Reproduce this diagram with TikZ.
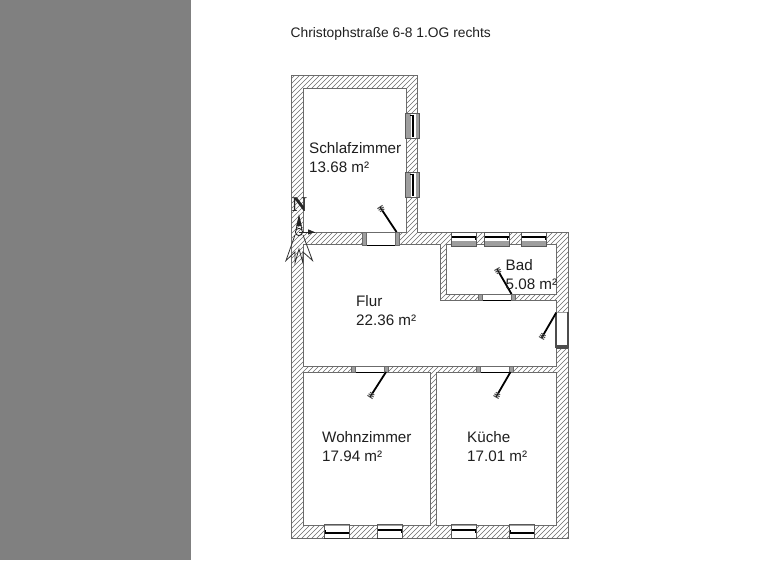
\documentclass[tikz,border=0pt]{standalone}
\usepackage{fontspec}
\setmainfont{Liberation Sans}
\newfontfamily\northfont{Liberation Serif}
\usetikzlibrary{calc}
\definecolor{hatch}{gray}{0.42}
\definecolor{sidegrey}{gray}{0.5}
\definecolor{winfill}{gray}{0.62}
\tikzset{
  x=1pt,y=-1pt,
  wallline/.style={draw=hatch,line width=0.8pt},
  frameline/.style={draw=black!65,line width=0.9pt},
  pane/.style={line width=2pt,draw=black},
  tick/.style={line width=0.9pt,draw=black},
  roomlabel/.style={font=\fontsize{15.2pt}{18pt}\selectfont,anchor=base west,inner sep=0pt,text=black!88},
}
\begin{document}
\begin{tikzpicture}
\useasboundingbox (0,0) rectangle (768,560);
\fill[white] (0,0) rectangle (768,560);
\fill[sidegrey] (0,0) rectangle (191,560);
% hatched walls
\begin{scope}[even odd rule]
  \clip (291.5,75.5) -- (417.5,75.5) -- (417.5,232.5) -- (568,232.5) -- (568,538) -- (291.5,538) -- cycle
    (303.5,88) -- (406,88) -- (406,232.5) -- (303.5,232.5) -- cycle
    (303.5,244.5) -- (440,244.5) -- (440,300.5) -- (556,300.5) -- (556,366) -- (303.5,366) -- cycle
    (446,244.5) -- (556,244.5) -- (556,294) -- (446,294) -- cycle
    (303.5,372.5) -- (430,372.5) -- (430,525.5) -- (303.5,525.5) -- cycle
    (436.5,372.5) -- (556,372.5) -- (556,525.5) -- (436.5,525.5) -- cycle;
  \foreach \k in {-300,-295,...,1000} \draw[hatch,line width=0.55pt] (\k,560) -- (\k+560,0);
\end{scope}
\draw[wallline] (291.5,75.5) -- (417.5,75.5) -- (417.5,232.5) -- (568,232.5) -- (568,538) -- (291.5,538) -- cycle;
\draw[wallline] (303.5,88) -- (406,88) -- (406,232.5) -- (303.5,232.5) -- cycle;
\draw[wallline] (303.5,244.5) -- (440,244.5) -- (440,300.5) -- (556,300.5) -- (556,366) -- (303.5,366) -- cycle;
\draw[wallline] (446,244.5) -- (556,244.5) -- (556,294) -- (446,294) -- cycle;
\draw[wallline] (303.5,372.5) -- (430,372.5) -- (430,525.5) -- (303.5,525.5) -- cycle;
\draw[wallline] (436.5,372.5) -- (556,372.5) -- (556,525.5) -- (436.5,525.5) -- cycle;
% windows right of Schlafzimmer
\foreach \y in {113,172}{
  \fill[white] (405,\y) rectangle (419,\y+25);
  \fill[winfill] (405,\y) rectangle (411,\y+25);
  \fill[winfill] (416,\y) rectangle (419,\y+25);
  \draw[frameline] (405,\y) rectangle (419,\y+25);
  \draw[pane] (412.7,\y+1.5) -- (412.7,\y+24);
  \draw[tick] (412.7,\y+2) -- (409.5,\y+2);
}
% top windows (Bad)
\foreach \x in {451.5,484,521.5}{
  \fill[white] (\x,232.5) rectangle (\x+25,246.5);
  \fill[winfill] (\x,240.5) rectangle (\x+25,246.5);
  \draw[frameline] (\x,232.5) rectangle (\x+25,246.5);
  \draw[pane] (\x+0.5,237) -- (\x+24.5,237);
  \draw[tick] (\x+23.5,237) -- (\x+23.5,240);
}
% right window (Flur)
\fill[white] (556,312) rectangle (568,346.5);
\draw[winfill,line width=1.6pt] (556,312.5) -- (568,312.5);
\draw[black!70,line width=1.1pt] (556,312) -- (556,348) (568,312) -- (568,348) (556,348) -- (568,348) (556,346) -- (568,346);
% bottom windows
\foreach \x/\ly/\tx/\tya/\tyb in {324/532.7/325.5/532.7/529.5, 509/532.7/510.5/532.7/529.5, 377/530/401/530/533, 451.5/530/475.5/530/533}{
  \fill[white] (\x,524) rectangle (\x+25,538);
  \fill[winfill] (\x,524) rectangle (\x+25,526);
  \draw[frameline] (\x,524) rectangle (\x+25,538);
  \draw[pane] (\x+0.5,\ly) -- (\x+24.5,\ly);
  \draw[tick] (\tx,\tya) -- (\tx,\tyb);
  \draw[line width=0.9pt,black!80] (\x,538) -- (\x+25,538);
}
% door openings
\foreach \xa/\xb/\ya/\yb in {362/399/232.5/245, 478/515.5/294/300.5, 351/388/366/372.5, 476/513/366/372.5}{
  \fill[white] (\xa,\ya) rectangle (\xb,\yb);
  \draw[hatch,line width=0.9pt] (\xa,\ya) -- (\xb,\ya);
  \draw[black,line width=0.9pt] (\xa,\yb) -- (\xb,\yb);
  \fill[winfill] (\xa,\ya) rectangle (\xa+4,\yb);
  \fill[winfill] (\xb-4,\ya) rectangle (\xb,\yb);
  \draw[hatch,line width=0.7pt] (\xa,\ya) rectangle (\xa+4,\yb);
  \draw[hatch,line width=0.7pt] (\xb-4,\ya) rectangle (\xb,\yb);
}
% door leaves
\foreach \ax/\ay/\bx/\by in {396.5/232/380/207, 511.5/294/497/269, 386/372/370/397, 510.5/372/496/397, 556/313/541.5/338}{
  \coordinate (hinge) at (\ax,\ay);
  \coordinate (tip) at (\bx,\by);
  \draw[line width=1.8pt] (hinge) -- (tip);
  \coordinate (c1) at ($(tip)!2pt!(hinge)$);
  \draw[black!70,line width=1pt] ($(c1)!3pt!90:(hinge)$) -- ($(c1)!3pt!-90:(hinge)$);
  \draw[black!70,line width=1pt] ($(tip)!3pt!90:(hinge)$) -- ($(tip)!3pt!-90:(hinge)$);
  \coordinate (c2) at ($(tip)!4pt!(hinge)$);
  \draw[black!70,line width=1pt] ($(c2)!2.5pt!90:(hinge)$) -- ($(c2)!2.5pt!-90:(hinge)$);
}
% north symbol
\node[font=\northfont\bfseries\fontsize{21pt}{21pt}\selectfont,inner sep=0pt,text=black!85] (north) at (299.5,205) {N};
\coordinate (cc) at (299,232);
\coordinate (arrowup) at (299,216);
\coordinate (arroweast) at (314.5,232);
\draw[black!85,line width=0.9pt] (cc) circle[radius=3.6];
\draw[black!85,line width=0.8pt] (296,230) -- (arrowup) -- (302,230);
\fill[black!85] (arrowup) -- (296.3,226) -- (301.7,226) -- cycle;
\draw[black!85,line width=0.9pt] (cc) -- (arroweast);
\fill[black!85] (arroweast) -- (308,229.3) -- (308,234.7) -- cycle;
\draw[black!80,line width=0.8pt] (295,235) -- (286,260.5) -- (295,252) -- (295,263) -- (299,249) -- (303,263) -- (303,252) -- (312.5,260.5) -- (303,235);
% texts
\node[font=\fontsize{13.8pt}{16pt}\selectfont,anchor=base west,inner sep=0pt,text=black!88] (title) at (290.5,37) {Christophstraße 6-8 1.OG rechts};
\node[roomlabel] (schlaf) at (309,153.5) {Schlafzimmer};
\node[roomlabel] (schlafa) at (309,172.5) {13.68 m²};
\node[roomlabel] (bad) at (505.5,270) {Bad};
\node[roomlabel] (bada) at (505.5,289) {5.08 m²};
\node[roomlabel] (flur) at (356,306) {Flur};
\node[roomlabel] (flura) at (356,325) {22.36 m²};
\node[roomlabel] (wohn) at (322,442.5) {Wohnzimmer};
\node[roomlabel] (wohna) at (322,461) {17.94 m²};
\node[roomlabel] (kueche) at (467,442.5) {Küche};
\node[roomlabel] (kuechea) at (467,461) {17.01 m²};
\end{tikzpicture}
\end{document}
